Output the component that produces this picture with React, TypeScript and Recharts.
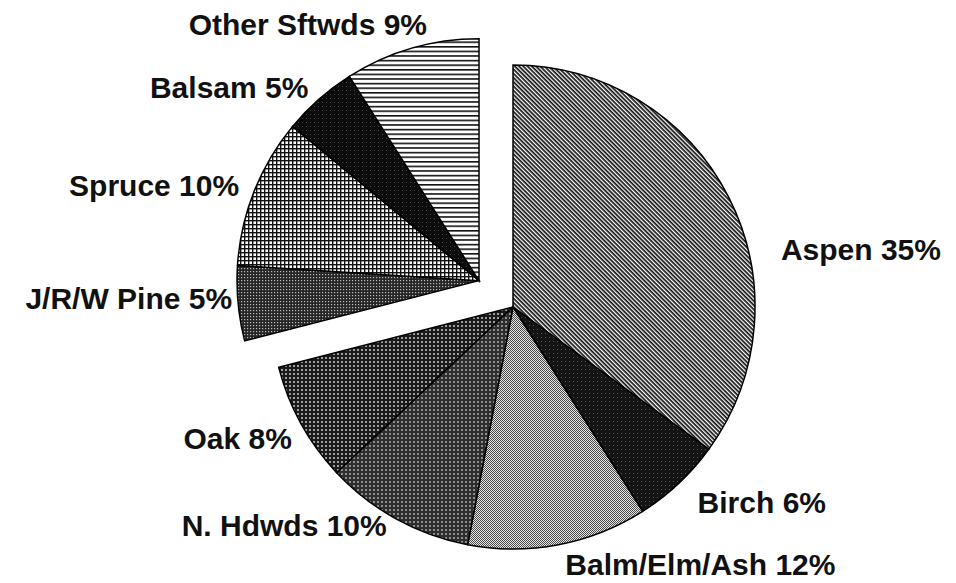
import { PieChart, Pie, Cell } from 'recharts';

// Share of growing stock by species group (%), clockwise from 12 o'clock
const SPECIES = ['Aspen', 'Birch', 'Balm/Elm/Ash', 'N. Hdwds', 'Oak', 'J/R/W Pine', 'Spruce', 'Balsam', 'Other Sftwds'];
const SHARES = [35, 6, 12, 10, 8, 5, 10, 5, 9];
const SOFTWOODS = ['J/R/W Pine', 'Spruce', 'Balsam', 'Other Sftwds'];

const PATTERNS: Record<string, string> = {
    'Aspen': 'url(#pat-diag)',
    'Birch': 'url(#pat-black)',
    'Balm/Elm/Ash': 'url(#pat-light)',
    'N. Hdwds': 'url(#pat-dkgrid)',
    'Oak': 'url(#pat-dots)',
    'J/R/W Pine': 'url(#pat-stipple)',
    'Spruce': 'url(#pat-cross)',
    'Balsam': 'url(#pat-black2)',
    'Other Sftwds': 'url(#pat-horiz)',
};

// labels that sit off the plain mid-angle position
const LABEL_SHIFT: Record<string, [number, number]> = {
    'Aspen': [38, 60],
    'Other Sftwds': [20, -8],
    'J/R/W Pine': [10, -6],
    'Birch': [8, 7],
    'Oak': [5, 7],
    'N. Hdwds': [-2, -8],
    'Balm/Elm/Ash': [4, 4],
};

const WIDTH = 956;
const HEIGHT = 583;
const CX = 513;
const CY = 307;
const RADIUS = 242;
const EXPLODE = 43;
const RAD = Math.PI / 180;

const rows = SPECIES.map((name, i) => ({ name, value: SHARES[i] }));
const hardRows = rows.filter(r => !SOFTWOODS.includes(r.name));
const softRows = rows.filter(r => SOFTWOODS.includes(r.name));

const total = SHARES.reduce((a, b) => a + b, 0);
const hardTotal = hardRows.reduce((a, r) => a + r.value, 0);
const splitAngle = 90 - (360 * hardTotal) / total;

// pull the softwood wedge out along its mid angle
const softMid = (splitAngle + (90 - 360)) / 2;
const softCx = CX + EXPLODE * Math.cos(softMid * RAD);
const softCy = CY - EXPLODE * Math.sin(softMid * RAD);

const renderLabel = (props: any) => {
    const { cx, cy, midAngle, outerRadius, name, value } = props;
    const r = outerRadius + 16;
    let x = cx + r * Math.cos(-midAngle * RAD);
    let y = cy + r * Math.sin(-midAngle * RAD);
    const anchor = x > cx ? 'start' : 'end';
    const shift = LABEL_SHIFT[name];
    if (shift) {
        x += shift[0];
        y += shift[1];
    }
    return (
        <text
            x={x}
            y={y}
            textAnchor={anchor}
            dominantBaseline="central"
            fontFamily="'Liberation Sans', Arial, sans-serif"
            fontWeight="bold"
            fontSize={30}
            fill="#111"
        >
            {`${name} ${value}%`}
        </text>
    );
};

export default function App() {
    return (
        <div style={{ width: WIDTH, height: HEIGHT, background: '#fff' }}>
            <style>{'body{margin:0}'}</style>
            <PieChart width={WIDTH} height={HEIGHT} margin={{ top: 0, right: 0, bottom: 0, left: 0 }}>
                <defs>
                    <pattern id="pat-diag" patternUnits="userSpaceOnUse" width="3" height="3" patternTransform="rotate(45)">
                        <rect width="3" height="3" fill="#fff" />
                        <rect width="3" height="1.7" fill="#111" />
                    </pattern>
                    <pattern id="pat-black" patternUnits="userSpaceOnUse" width="4" height="4">
                        <rect width="4" height="4" fill="#141414" />
                        <rect x="1" y="1" width="1" height="1" fill="#555" />
                    </pattern>
                    <pattern id="pat-light" patternUnits="userSpaceOnUse" width="2" height="2">
                        <rect width="2" height="2" fill="#e6e6e6" />
                        <rect width="1" height="1" fill="#4a4a4a" />
                        <rect x="1" y="1" width="1" height="1" fill="#4a4a4a" />
                    </pattern>
                    <pattern id="pat-dkgrid" patternUnits="userSpaceOnUse" width="4" height="4">
                        <rect width="4" height="4" fill="#2e2e2e" />
                        <rect x="1" y="1" width="2" height="2" fill="#8e8e8e" />
                    </pattern>
                    <pattern id="pat-dots" patternUnits="userSpaceOnUse" width="4" height="4">
                        <rect width="4" height="4" fill="#1a1a1a" />
                        <rect x="1.2" y="1.2" width="1.6" height="1.6" fill="#e8e8e8" />
                    </pattern>
                    <pattern id="pat-stipple" patternUnits="userSpaceOnUse" width="3" height="3">
                        <rect width="3" height="3" fill="#262626" />
                        <rect x="1" y="1" width="1.2" height="1.2" fill="#bbb" />
                    </pattern>
                    <pattern id="pat-cross" patternUnits="userSpaceOnUse" width="4" height="4">
                        <rect width="4" height="4" fill="#fff" />
                        <rect width="4" height="1.4" fill="#111" />
                        <rect width="1.4" height="4" fill="#111" />
                    </pattern>
                    <pattern id="pat-black2" patternUnits="userSpaceOnUse" width="4" height="4">
                        <rect width="4" height="4" fill="#0c0c0c" />
                        <rect x="2" y="2" width="1" height="1" fill="#444" />
                    </pattern>
                    <pattern id="pat-horiz" patternUnits="userSpaceOnUse" width="4" height="4.6">
                        <rect width="4" height="4.6" fill="#fff" />
                        <rect width="4" height="1.6" fill="#111" />
                    </pattern>
                </defs>
                <Pie
                    data={hardRows}
                    dataKey="value"
                    nameKey="name"
                    cx={CX}
                    cy={CY}
                    outerRadius={RADIUS}
                    startAngle={90}
                    endAngle={splitAngle}
                    label={renderLabel}
                    labelLine={false}
                    isAnimationActive={false}
                >
                    {hardRows.map(r => (
                        <Cell key={r.name} fill={PATTERNS[r.name]} stroke="#000" strokeWidth={1.5} />
                    ))}
                </Pie>
                <Pie
                    data={softRows}
                    dataKey="value"
                    nameKey="name"
                    cx={softCx}
                    cy={softCy}
                    outerRadius={RADIUS}
                    startAngle={splitAngle}
                    endAngle={90 - 360}
                    label={renderLabel}
                    labelLine={false}
                    isAnimationActive={false}
                >
                    {softRows.map(r => (
                        <Cell key={r.name} fill={PATTERNS[r.name]} stroke="#000" strokeWidth={1.5} />
                    ))}
                </Pie>
            </PieChart>
        </div>
    );
}
